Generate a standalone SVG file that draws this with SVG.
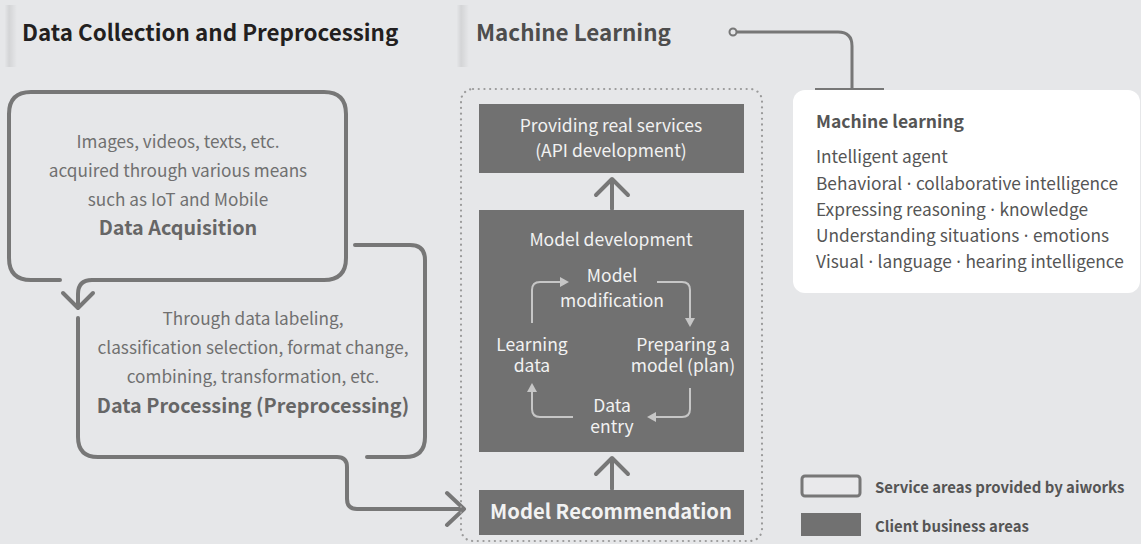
<svg xmlns="http://www.w3.org/2000/svg" width="1141" height="544" viewBox="0 0 1141 544">
<defs>
<linearGradient id="sh" x1="0" y1="0" x2="1" y2="0">
<stop offset="0" stop-color="#000" stop-opacity="0.01"/>
<stop offset="0.35" stop-color="#000" stop-opacity="0.08"/>
<stop offset="1" stop-color="#000" stop-opacity="0"/>
</linearGradient>
<style>
text{font-family:"Noto Sans CJK KR","Noto Sans",sans-serif}
.title{font-size:22.4px;font-weight:700}
.ln{fill:none;stroke:#777;stroke-width:4;stroke-linecap:round;stroke-linejoin:round}
.dark{fill:#717171}
.gt{font-size:17.2px;fill:#707070;text-anchor:middle}
.gb{font-size:19.8px;font-weight:700;fill:#666;text-anchor:middle}
.wt{font-size:17.5px;fill:#f2f2f2;text-anchor:middle}
.cyc{fill:none;stroke:#c6c6c6;stroke-width:2}
.ah{fill:#c6c6c6}
.lt{font-size:17.3px;fill:#555}
.dot{font-family:"Noto Sans",sans-serif}
.lg{font-size:14.9px;font-weight:700;fill:#555}
</style>
</defs>
<rect width="1141" height="544" fill="#e6e7e9"/>
<rect x="5" y="5" width="12" height="62" fill="url(#sh)"/>
<rect x="457" y="5" width="12" height="62" fill="url(#sh)"/>
<text class="title" x="22" y="41" fill="#231f20">Data Collection and Preprocessing</text>
<text class="title" x="476" y="41" fill="#4d4d4d">Machine Learning</text>

<g id="connectors">
<path d="M737,32 H838 Q852,32 852,46 V90" fill="none" stroke="#777" stroke-width="3"/>
<circle cx="733" cy="32" r="3.5" fill="#e6e7e9" stroke="#777" stroke-width="2"/>
<rect x="815" y="88" width="69" height="4" fill="#777"/>
<path class="ln" d="M78,318 V437 Q78,457 98,457 H337 Q347,457 347,467 V499 Q347,509 357,509 H463"/>
<path class="ln" d="M447,493 L464,509 L447,525"/>
<path class="ln" d="M612,209 V180 M596,195 L612,179 L628,195"/>
<path class="ln" d="M612,489 V459 M596,474 L612,458 L628,474"/>
</g>

<g id="data-acquisition">
<path class="ln" d="M60,280 H31 Q9,280 9,258 V114 Q9,92 31,92 H324 Q346,92 346,114 V258 Q346,280 324,280 H92 Q78,280 78,294 V307"/>
<path class="ln" d="M63,293 L78,308 L93,293"/>
<text class="gt" x="178" y="148">Images, videos, texts, etc.</text>
<text class="gt" x="178" y="177">acquired through various means</text>
<text class="gt" x="178" y="206">such as IoT and Mobile</text>
<text class="gb" x="178" y="235">Data Acquisition</text>
</g>

<g id="data-processing">
<path class="ln" d="M355,245 H410 Q425,245 425,260 V437 Q425,457 405,457 H367"/>
<text class="gt" x="253" y="325">Through data labeling,</text>
<text class="gt" x="253" y="354">classification selection, format change,</text>
<text class="gt" x="253" y="383">combining, transformation, etc.</text>
<text class="gb" x="253" y="413">Data Processing (Preprocessing)</text>
</g>

<g id="ml-area">
<rect x="461" y="89" width="301" height="452" rx="12" fill="none" stroke="#9a9a9a" stroke-width="2.2" stroke-dasharray="0.1 5.6" stroke-linecap="round"/>
</g>

<g id="real-services">
<rect class="dark" x="479" y="104" width="265" height="69"/>
<text class="wt" x="611" y="132">Providing real services</text>
<text class="wt" x="611" y="157">(API development)</text>
</g>

<g id="model-development">
<rect class="dark" x="479" y="210" width="265" height="242"/>
<text class="wt" x="611" y="246">Model development</text>
<text class="wt" x="612" y="282">Model</text>
<text class="wt" x="612" y="307">modification</text>
<text class="wt" x="532" y="351">Learning</text>
<text class="wt" x="532" y="372">data</text>
<text class="wt" x="683" y="351">Preparing a</text>
<text class="wt" x="683" y="372">model (plan)</text>
<text class="wt" x="612" y="412">Data</text>
<text class="wt" x="612" y="433">entry</text>
<path class="cyc" d="M532,323 V290 Q532,282 540,282 H561"/>
<path class="ah" d="M569,282 L560,277 L560,287 Z"/>
<path class="cyc" d="M657,282 H682 Q690,282 690,290 V319"/>
<path class="ah" d="M690,327 L685,318 L695,318 Z"/>
<path class="cyc" d="M690,388 V409 Q690,417 682,417 H655"/>
<path class="ah" d="M647,417 L656,412 L656,422 Z"/>
<path class="cyc" d="M573,417 H540 Q532,417 532,409 V391"/>
<path class="ah" d="M532,383 L527,392 L537,392 Z"/>
</g>

<g id="model-recommendation">
<rect class="dark" x="479" y="490" width="265" height="45"/>
<text x="611" y="519" font-size="20.2" font-weight="700" fill="#f2f2f2" text-anchor="middle">Model Recommendation</text>
</g>

<g id="ml-info">
<rect x="793" y="90" width="347" height="203" rx="12" fill="#fff"/>
<text x="816" y="128" font-size="17.5" font-weight="700" fill="#555">Machine learning</text>
<text class="lt" x="816" y="163">Intelligent agent</text>
<text class="lt" x="816" y="190">Behavioral<tspan class="dot"> · </tspan>collaborative intelligence</text>
<text class="lt" x="816" y="216">Expressing reasoning<tspan class="dot"> · </tspan>knowledge</text>
<text class="lt" x="816" y="242">Understanding situations<tspan class="dot"> · </tspan>emotions</text>
<text class="lt" x="816" y="268">Visual<tspan class="dot"> · </tspan>language<tspan class="dot"> · </tspan>hearing intelligence</text>
</g>

<g id="legend">
<rect x="802" y="476" width="58" height="20" rx="3" fill="#e9e9eb" stroke="#777" stroke-width="3"/>
<text class="lg" x="875" y="493">Service areas provided by aiworks</text>
<rect class="dark" x="801" y="513" width="60" height="23"/>
<text class="lg" x="875" y="532">Client business areas</text>
</g>
</svg>
